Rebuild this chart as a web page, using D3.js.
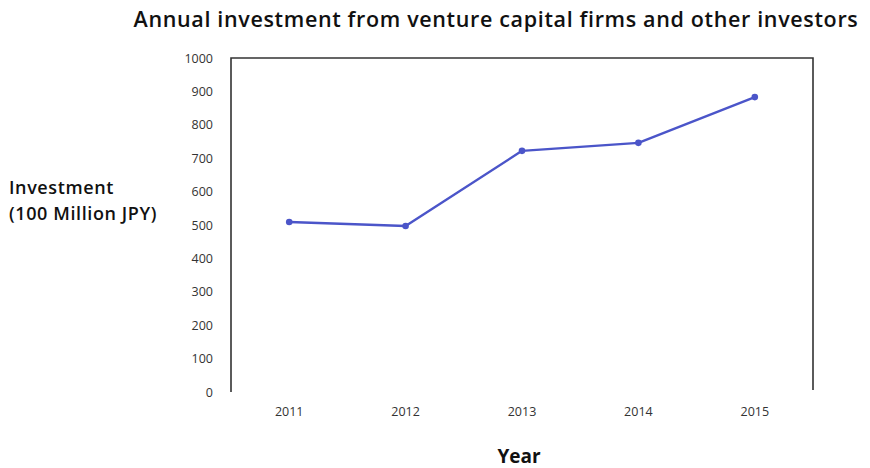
<!DOCTYPE html>
<html>
<head>
<meta charset="utf-8">
<script src="https://cdn.jsdelivr.net/npm/d3@7"></script>
<style>
  html, body { margin: 0; padding: 0; background: #fff; }
  svg { display: block; }
</style>
</head>
<body>
<svg id="chart" width="870" height="468"></svg>
<script>
// Annual investment (100 million JPY) by year
const years = ["2011", "2012", "2013", "2014", "2015"];
const investment = [509, 497, 722, 746, 883];
const yTicks = [0, 100, 200, 300, 400, 500, 600, 700, 800, 900, 1000];

const svg = d3.select("#chart");
const font = "'Open Sans', 'Lato', sans-serif";

const plot = { left: 231, right: 813, top: 58, bottom: 392 };

const x = d3.scaleBand().domain(years).range([plot.left, plot.right]);
const y = d3.scaleLinear().domain([0, 1000]).range([plot.bottom, plot.top]);

// Title
svg.append("text")
  .attr("x", 496).attr("y", 27)
  .attr("text-anchor", "middle")
  .attr("font-family", font).attr("font-size", 21.5).attr("font-weight", 600)
  .attr("letter-spacing", 0.65)
  .attr("fill", "#111")
  .text("Annual investment from venture capital firms and other investors");

// Frame: left, top and right sides
svg.append("path")
  .attr("d", `M${plot.left},${plot.bottom}V${plot.top}H${plot.right}V${plot.bottom - 2}`)
  .attr("fill", "none").attr("stroke", "#333").attr("stroke-width", 1.6);

// Y axis tick labels
const yAxis = d3.axisLeft(y).tickValues(yTicks).tickFormat(d3.format("d")).tickSize(0).tickPadding(18);
const gy = svg.append("g").attr("transform", `translate(${plot.left},0)`).call(yAxis);
gy.select(".domain").remove();
gy.selectAll("text").attr("font-family", font).attr("font-size", 12.5).attr("fill", "#333");

// X axis tick labels
const xAxis = d3.axisBottom(x).tickSize(0).tickPadding(15);
const gx = svg.append("g").attr("transform", `translate(0,${plot.bottom})`).call(xAxis);
gx.select(".domain").remove();
gx.selectAll("text").attr("font-family", font).attr("font-size", 12.5).attr("fill", "#333");

// Axis titles
const yTitle = svg.append("text")
  .attr("font-family", font).attr("font-size", 18).attr("font-weight", 600)
  .attr("letter-spacing", 0.6).attr("fill", "#111");
yTitle.append("tspan").attr("x", 9).attr("y", 194).text("Investment");
yTitle.append("tspan").attr("x", 9).attr("y", 220).text("(100 Million JPY)");

svg.append("text")
  .attr("x", 519).attr("y", 463)
  .attr("text-anchor", "middle")
  .attr("font-family", font).attr("font-size", 19).attr("font-weight", 700).attr("fill", "#111")
  .text("Year");

// Line and markers
const data = years.map((yr, i) => ({ year: yr, value: investment[i] }));
const cx = d => x(d.year) + x.bandwidth() / 2;

svg.append("path")
  .datum(data)
  .attr("d", d3.line().x(cx).y(d => y(d.value)))
  .attr("fill", "none").attr("stroke", "#4b55c9").attr("stroke-width", 2.4)
  .attr("stroke-linejoin", "round");

svg.selectAll("circle.pt")
  .data(data)
  .join("circle")
  .attr("class", "pt")
  .attr("cx", cx).attr("cy", d => y(d.value))
  .attr("r", 3.3)
  .attr("fill", "#4b55c9");
</script>
</body>
</html>
